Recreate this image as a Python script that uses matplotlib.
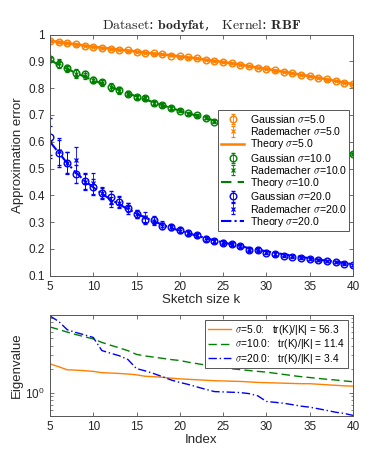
import numpy as np
import matplotlib
matplotlib.use("Agg")
import matplotlib.pyplot as plt
from matplotlib.ticker import NullFormatter, FixedLocator

plt.rcParams["font.family"] = ["Liberation Sans", "DejaVu Sans"]
plt.rcParams["mathtext.fontset"] = "cm"

# ==========================
# DATA
# ==========================

k = list(range(5, 41))

orange_theory = [0.977, 0.973, 0.968, 0.964, 0.959, 0.955, 0.951, 0.948, 0.944, 0.941,
                 0.937, 0.933, 0.930, 0.926, 0.923, 0.919, 0.915, 0.911, 0.906, 0.902,
                 0.898, 0.893, 0.888, 0.882, 0.877, 0.872, 0.867, 0.861, 0.856, 0.850,
                 0.845, 0.839, 0.833, 0.827, 0.821, 0.815]
orange_gauss = [0.977, 0.973, 0.969, 0.964, 0.959, 0.955, 0.951, 0.947, 0.944, 0.941,
                0.937, 0.933, 0.930, 0.926, 0.922, 0.919, 0.915, 0.911, 0.906, 0.902,
                0.898, 0.893, 0.888, 0.883, 0.877, 0.872, 0.867, 0.861, 0.856, 0.851,
                0.845, 0.839, 0.833, 0.827, 0.821, 0.815]
orange_rade = [0.976, 0.972, 0.968, 0.963, 0.959, 0.955, 0.950, 0.948, 0.944, 0.940,
               0.937, 0.933, 0.929, 0.926, 0.923, 0.918, 0.914, 0.911, 0.906, 0.901,
               0.897, 0.893, 0.888, 0.882, 0.876, 0.872, 0.866, 0.861, 0.855, 0.850,
               0.844, 0.839, 0.832, 0.827, 0.820, 0.814]
orange_err = [0.004, 0.004, 0.003, 0.003, 0.003, 0.003, 0.003, 0.003, 0.003, 0.003,
              0.003, 0.003, 0.003, 0.002, 0.002, 0.002, 0.002, 0.002, 0.002, 0.002,
              0.002, 0.002, 0.002, 0.002, 0.002, 0.002, 0.002, 0.002, 0.002, 0.002,
              0.002, 0.002, 0.002, 0.002, 0.002, 0.002]

green_theory = [0.905, 0.888, 0.872, 0.857, 0.843, 0.830, 0.817, 0.805, 0.793, 0.781,
                0.769, 0.758, 0.747, 0.736, 0.726, 0.716, 0.706, 0.697, 0.688, 0.679,
                0.671, 0.663, 0.655, 0.647, 0.639, 0.632, 0.624, 0.616, 0.609, 0.601,
                0.593, 0.586, 0.578, 0.570, 0.563, 0.555]
green_gauss = [0.910, 0.890, 0.876, 0.857, 0.853, 0.830, 0.822, 0.803, 0.793, 0.780,
               0.768, 0.764, 0.743, 0.737, 0.727, 0.716, 0.706, 0.700, 0.690, 0.675,
               0.672, 0.662, 0.656, 0.646, 0.640, 0.631, 0.625, 0.615, 0.610, 0.600,
               0.594, 0.585, 0.579, 0.571, 0.562, 0.555]
green_rade = [0.910, 0.893, 0.872, 0.852, 0.845, 0.832, 0.820, 0.806, 0.790, 0.782,
              0.768, 0.762, 0.745, 0.738, 0.725, 0.717, 0.705, 0.698, 0.689, 0.677,
              0.670, 0.664, 0.654, 0.648, 0.638, 0.633, 0.623, 0.617, 0.608, 0.602,
              0.592, 0.587, 0.577, 0.571, 0.563, 0.556]
green_err = [0.008, 0.015, 0.012, 0.015, 0.012, 0.010, 0.010, 0.012, 0.010, 0.008,
             0.008, 0.008, 0.007, 0.007, 0.006, 0.006, 0.006, 0.005, 0.005, 0.005,
             0.005, 0.005, 0.005, 0.004, 0.004, 0.004, 0.004, 0.004, 0.004, 0.004,
             0.004, 0.004, 0.004, 0.003, 0.003, 0.003]

blue_theory = [0.600, 0.560, 0.520, 0.485, 0.455, 0.430, 0.406, 0.385, 0.366, 0.349,
               0.332, 0.317, 0.303, 0.290, 0.278, 0.268, 0.258, 0.249, 0.240, 0.232,
               0.224, 0.217, 0.210, 0.203, 0.197, 0.191, 0.185, 0.180, 0.175, 0.170,
               0.165, 0.160, 0.156, 0.152, 0.148, 0.142]
blue_gauss = [0.619, 0.557, 0.522, 0.480, 0.455, 0.432, 0.407, 0.392, 0.376, 0.351,
              0.330, 0.308, 0.308, 0.285, 0.280, 0.270, 0.258, 0.252, 0.237, 0.229,
              0.223, 0.217, 0.211, 0.196, 0.196, 0.186, 0.181, 0.175, 0.171, 0.167,
              0.162, 0.159, 0.154, 0.150, 0.145, 0.140]
blue_rade = [0.600, 0.565, 0.520, 0.532, 0.450, 0.445, 0.410, 0.375, 0.372, 0.355,
             0.332, 0.318, 0.305, 0.292, 0.282, 0.268, 0.260, 0.250, 0.240, 0.230,
             0.225, 0.218, 0.210, 0.200, 0.199, 0.188, 0.182, 0.177, 0.173, 0.168,
             0.163, 0.158, 0.155, 0.151, 0.146, 0.141]
blue_gauss_err = [0.070, 0.050, 0.040, 0.035, 0.030, 0.030, 0.020, 0.025, 0.020, 0.020,
                  0.015, 0.015, 0.015, 0.012, 0.010, 0.010, 0.010, 0.009, 0.009, 0.008,
                  0.008, 0.007, 0.007, 0.007, 0.006, 0.006, 0.006, 0.005, 0.005, 0.005,
                  0.005, 0.005, 0.004, 0.004, 0.004, 0.004]
blue_rade_err = [0.060, 0.050, 0.040, 0.050, 0.030, 0.040, 0.020, 0.020, 0.020, 0.018,
                 0.015, 0.018, 0.015, 0.012, 0.010, 0.010, 0.010, 0.009, 0.009, 0.008,
                 0.008, 0.007, 0.007, 0.007, 0.008, 0.006, 0.006, 0.005, 0.005, 0.005,
                 0.005, 0.005, 0.004, 0.004, 0.004, 0.004]

idx = list(range(5, 41))
eig_5 = [2.33, 2.15, 1.96, 1.94, 1.91, 1.87, 1.80, 1.78, 1.76, 1.73,
         1.69, 1.62, 1.60, 1.57, 1.53, 1.50, 1.48, 1.46, 1.44, 1.42,
         1.41, 1.40, 1.39, 1.37, 1.35, 1.34, 1.33, 1.32, 1.31, 1.30,
         1.30, 1.28, 1.26, 1.24, 1.22, 1.21]
eig_10 = [6.95, 6.45, 5.97, 5.55, 5.20, 4.88, 4.40, 4.05, 3.75, 3.45,
          3.09, 2.95, 2.85, 2.75, 2.65, 2.58, 2.45, 2.35, 2.25, 2.15,
          2.07, 2.02, 1.97, 1.92, 1.87, 1.83, 1.77, 1.71, 1.65, 1.60,
          1.56, 1.52, 1.48, 1.45, 1.41, 1.38]
eig_20 = [9.6, 8.2, 6.4, 5.9, 5.5, 5.1, 3.46, 3.2, 2.97, 2.66,
          2.03, 1.9, 1.75, 1.6, 1.45, 1.35, 1.27, 1.18, 1.10, 1.03,
          1.02, 1.01, 1.00, 0.97, 0.91, 0.77, 0.75, 0.73, 0.70, 0.67,
          0.65, 0.62, 0.59, 0.56, 0.54, 0.51]

sigmas = ["5.0", "10.0", "20.0"]
trace_ratio = ["56.3", "11.4", "3.4"]

# ==========================
# STYLE
# ==========================

c_orange = "#ff8000"
c_green = "#008000"
c_blue = "#0000ff"
axcol = "#555555"
txtcol = "#262626"


def matlab_axes(ax):
    for s in ax.spines.values():
        s.set_color(axcol)
        s.set_linewidth(0.7)
    ax.tick_params(direction="in", top=True, right=True, colors=axcol,
                   labelcolor=txtcol, labelsize=8.5, length=3, width=0.6)
    ax.tick_params(which="minor", direction="in", top=True, right=True,
                   colors=axcol, length=1.8, width=0.5)


fig = plt.figure(figsize=(3.9, 4.68), dpi=100)

# ==========================
# TOP: APPROXIMATION ERROR
# ==========================

ax1 = fig.add_axes([0.128, 0.411, 0.777, 0.515])

series = [
    (c_orange, orange_gauss, orange_err, orange_rade, orange_err, orange_theory, "-", 1.8),
    (c_green, green_gauss, green_err, green_rade, green_err, green_theory, (0, (5, 3)), 1.5),
    (c_blue, blue_gauss, blue_gauss_err, blue_rade, blue_rade_err, blue_theory, (0, (5, 1.5, 1, 1.5)), 1.5),
]

handles = []
for (col, g, ge, r, re, th, ls, lw), s in zip(series, sigmas):
    hg = ax1.errorbar(k, g, yerr=ge, fmt="o", mfc="none", mec=col, ms=4.8, mew=1.0,
                      ecolor=col, elinewidth=0.6, capsize=1.2, capthick=0.6,
                      label=r"Gaussian $\sigma$=" + s)
    hr = ax1.errorbar(k, r, yerr=re, fmt="x", mec=col, ms=3.5, mew=0.9,
                      ecolor=col, elinewidth=0.6, capsize=1.2, capthick=0.6,
                      label=r"Rademacher $\sigma$=" + s)
    ht, = ax1.plot(k, th, color=col, lw=lw, ls=ls, label=r"Theory $\sigma$=" + s)
    handles += [hg, hr, ht]

ax1.set_xlim(5, 40)
ax1.set_ylim(0.1, 1.0)
ax1.set_xticks([5, 10, 15, 20, 25, 30, 35, 40])
ax1.set_yticks([0.1, 0.2, 0.3, 0.4, 0.5, 0.6, 0.7, 0.8, 0.9, 1.0])
ax1.set_yticklabels(["0.1", "0.2", "0.3", "0.4", "0.5", "0.6", "0.7", "0.8", "0.9", "1"])
matlab_axes(ax1)
ax1.set_xlabel("Sketch size k", fontsize=9.5, color=txtcol, labelpad=1)
ax1.set_ylabel("Approximation error", fontsize=9.5, color=txtcol, labelpad=3)
ax1.set_title(r"$\mathrm{Dataset}$: $\mathbf{bodyfat}$,   $\mathrm{Kernel}$: $\mathbf{RBF}$",
              fontsize=10, color=txtcol, pad=4, family="DejaVu Serif")

leg = ax1.legend(handles=handles, loc="lower right", bbox_to_anchor=(0.995, 0.175),
                 fontsize=7.6, handlelength=2.2, handletextpad=0.5, labelspacing=0.02,
                 handleheight=0.8, borderpad=0.25, borderaxespad=0.2, fancybox=False,
                 framealpha=1)
leg.get_frame().set_edgecolor(axcol)
leg.get_frame().set_linewidth(0.7)

# ==========================
# BOTTOM: EIGENVALUES
# ==========================

ax2 = fig.add_axes([0.128, 0.111, 0.777, 0.216])
ax2.plot(idx, eig_5, color=c_orange, lw=1.0, ls="-",
         label=r"$\sigma$=" + sigmas[0] + ":   tr(K)/|K| = " + trace_ratio[0])
ax2.plot(idx, eig_10, color=c_green, lw=1.0, ls=(0, (6, 3)),
         label=r"$\sigma$=" + sigmas[1] + ":   tr(K)/|K| = " + trace_ratio[1])
ax2.plot(idx, eig_20, color=c_blue, lw=1.0, ls=(0, (6, 2, 1, 2)),
         label=r"$\sigma$=" + sigmas[2] + ":   tr(K)/|K| = " + trace_ratio[2])
ax2.set_yscale("log")
ax2.set_xlim(5, 40)
ax2.set_ylim(0.5, 9.9)
ax2.set_xticks([5, 10, 15, 20, 25, 30, 35, 40])
ax2.yaxis.set_major_locator(FixedLocator([1.0]))
ax2.yaxis.set_minor_locator(FixedLocator([0.5, 0.6, 0.7, 0.8, 0.9, 2, 3, 4, 5, 6, 7, 8, 9]))
ax2.yaxis.set_minor_formatter(NullFormatter())
matlab_axes(ax2)
ax2.set_xlabel("Index", fontsize=9.5, color=txtcol, labelpad=1)
ax2.set_ylabel("Eigenvalue", fontsize=9.5, color=txtcol, labelpad=2)

leg2 = ax2.legend(loc="upper right", fontsize=7.3, handlelength=2.3, handletextpad=0.4,
                  labelspacing=0.05, borderpad=0.25, borderaxespad=0.5,
                  fancybox=False, framealpha=1)
leg2.get_frame().set_edgecolor(axcol)
leg2.get_frame().set_linewidth(0.7)

plt.savefig("out.png", dpi=100)
